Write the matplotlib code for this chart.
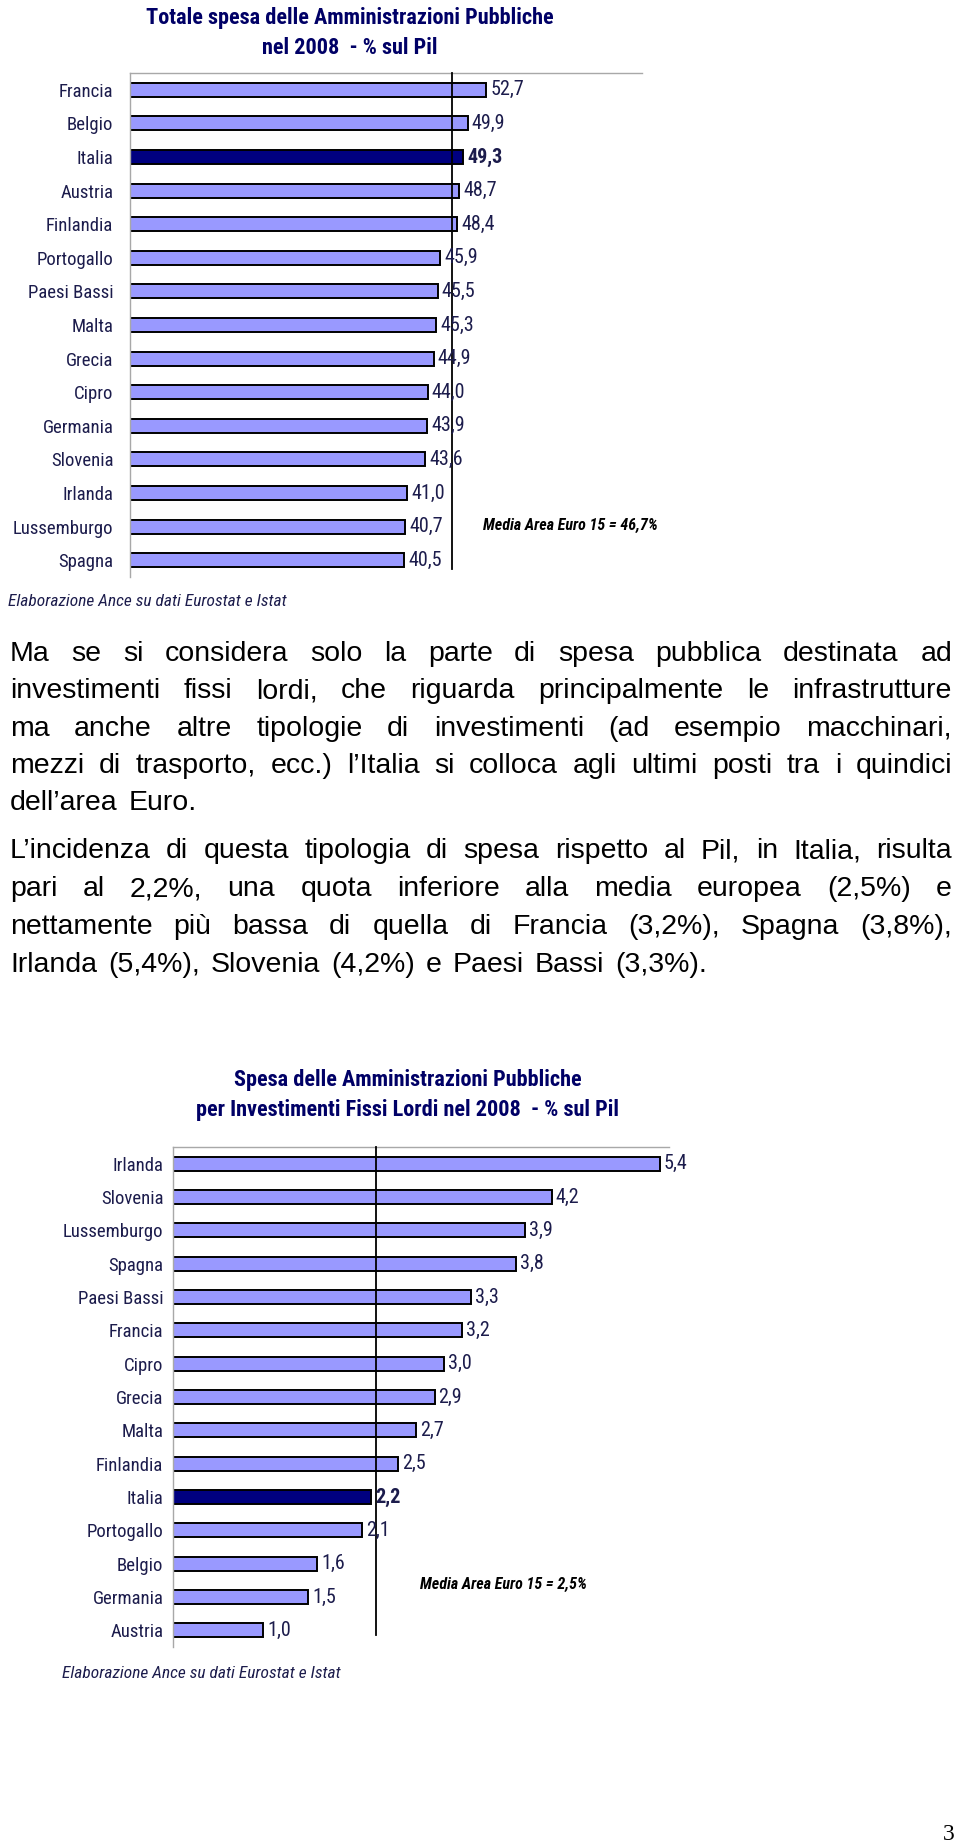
import matplotlib
matplotlib.use("Agg")
import matplotlib.pyplot as plt
from matplotlib import font_manager

# chart 1 data: total public spending 2008, % of GDP
countries_1 = ["Francia", "Belgio", "Italia", "Austria", "Finlandia", "Portogallo",
               "Paesi Bassi", "Malta", "Grecia", "Cipro", "Germania", "Slovenia",
               "Irlanda", "Lussemburgo", "Spagna"]
values_1 = [52.7, 49.9, 49.3, 48.7, 48.4, 45.9, 45.5, 45.3, 44.9, 44.0, 43.9, 43.6,
            41.0, 40.7, 40.5]
line_1 = 47.6  # position of the reference line as drawn
note_1 = "Media Area Euro 15 = 46,7%"

# chart 2 data: public gross fixed investment 2008, % of GDP
countries_2 = ["Irlanda", "Slovenia", "Lussemburgo", "Spagna", "Paesi Bassi", "Francia",
               "Cipro", "Grecia", "Malta", "Finlandia", "Italia", "Portogallo",
               "Belgio", "Germania", "Austria"]
values_2 = [5.4, 4.2, 3.9, 3.8, 3.3, 3.2, 3.0, 2.9, 2.7, 2.5, 2.2, 2.1, 1.6, 1.5, 1.0]
line_2 = 2.25
note_2 = "Media Area Euro 15 = 2,5%"

source = "Elaborazione Ance su dati Eurostat e Istat"

para_1 = ["Ma se si considera solo la parte di spesa pubblica destinata ad",
          "investimenti fissi lordi, che riguarda principalmente le infrastrutture",
          "ma anche altre tipologie di investimenti (ad esempio macchinari,",
          "mezzi di trasporto, ecc.) l\u2019Italia si colloca agli ultimi posti tra i quindici",
          "dell\u2019area Euro."]
para_2 = ["L\u2019incidenza di questa tipologia di spesa rispetto al Pil, in Italia, risulta",
          "pari al 2,2%, una quota inferiore alla media europea (2,5%) e",
          "nettamente pi\u00f9 bassa di quella di Francia (3,2%), Spagna (3,8%),",
          "Irlanda (5,4%), Slovenia (4,2%) e Paesi Bassi (3,3%)."]


# pick a narrow sans close to Arial Narrow, with the needed weight / style
def pick(cands, bold=False, italic=False):
    for c in cands:
        for f in font_manager.fontManager.ttflist:
            w = f.weight
            if isinstance(w, str):
                w = font_manager.weight_dict.get(w, 400)
            if f.name == c and (w >= 600) == bold and (f.style == "italic") == italic:
                return c
    return "Liberation Sans"


cands = ["Liberation Sans Narrow", "Nimbus Sans Narrow", "Arial Narrow", "Roboto Condensed",
         "PT Sans Narrow", "Archivo Narrow", "Asap Condensed"]
N_REG = pick(cands)
N_BOLD = pick(cands, bold=True)
N_IT = pick(cands, italic=True)
N_BI = pick(cands, bold=True, italic=True)

W, H = 960, 1846
fig = plt.figure(figsize=(W / 100, H / 100), dpi=100)
fig.patch.set_facecolor("white")

BAR = "#9999ff"
DARK = "#000080"
TXT = "#1c1c4c"
TITLE = "#000066"


def px(x, y):
    # pixel coords (origin top-left) -> figure fraction
    return x / W, 1 - y / H


def bar_chart(left, top, right, bottom, labels, vals, xmax, line_x, line_end, pad):
    ax = fig.add_axes([left / W, 1 - bottom / H, (right - left) / W, (bottom - top) / H])
    colors = [DARK if c == "Italia" else BAR for c in labels]
    y = list(range(len(labels)))
    ax.barh(y, vals, height=0.42, color=colors, edgecolor="black", linewidth=1.4, zorder=2)
    ax.set_xlim(0, xmax)
    ax.set_ylim(len(labels) - 0.5, -0.5)
    ax.set_xticks([])
    ax.set_yticks(y)
    ax.set_yticklabels(labels, family=N_REG, fontsize=13.5, color=TXT)
    ax.tick_params(axis="y", length=0, pad=pad)
    for s in ["right", "bottom"]:
        ax.spines[s].set_visible(False)
    for s in ["left", "top"]:
        ax.spines[s].set_color("#a8a8a8")
        ax.spines[s].set_linewidth(1.0)
    for yi, v, c in zip(y, vals, labels):
        bold = c == "Italia"
        ax.text(v + xmax * 0.008, yi, f"{v:.1f}".replace(".", ","), va="center", ha="left",
                family=N_BOLD if bold else N_REG, fontsize=14.5, color=TXT,
                fontweight="bold" if bold else "normal", zorder=4)
    ax.plot([line_x, line_x], [-0.5, line_end], color="black", lw=1.3, zorder=3,
            clip_on=False)
    return ax


bar_chart(130, 73, 642, 577, countries_1, values_1, 75.7, line_1, 14.25, 12)
bar_chart(173, 1147, 669, 1647, countries_2, values_2, 5.5, line_2, 14.15, 7)

# titles
tkw = dict(ha="center", va="center", family=N_BOLD, fontsize=16, fontweight="bold",
           color=TITLE)
fig.text(*px(350, 18), "Totale spesa delle Amministrazioni Pubbliche", **tkw)
fig.text(*px(350, 48), "nel 2008  - % sul Pil", **tkw)
fig.text(*px(408, 1080), "Spesa delle Amministrazioni Pubbliche", **tkw)
fig.text(*px(408, 1110), "per Investimenti Fissi Lordi nel 2008  - % sul Pil", **tkw)

# notes and sources
nkw = dict(ha="left", va="center", family=N_BI, fontsize=11.5, fontweight="bold",
           style="italic", color="black")
fig.text(*px(483, 525), note_1, **nkw)
fig.text(*px(420, 1584), note_2, **nkw)
skw = dict(ha="left", va="center", family=N_IT, fontsize=12.5, style="italic", color=TXT)
fig.text(*px(8, 602), source, **skw)
fig.text(*px(62, 1673), source, **skw)

# page number
fig.text(*px(949, 1835), "3", ha="center", va="center", family="Liberation Serif",
         fontsize=17, color="black")

# justified body text
renderer = fig.canvas.get_renderer()
X0, X1 = 10, 952
FS = 20.5
BODY = "Liberation Sans"


def word_width(w):
    t = fig.text(0, 0, w, family=BODY, fontsize=FS)
    bb = t.get_window_extent(renderer)
    t.remove()
    return bb.width


space_w = word_width("a b") - word_width("ab")


def paragraph(lines, y0, pitch):
    for i, line in enumerate(lines):
        y = y0 + i * pitch
        words = line.split(" ")
        widths = [word_width(w) for w in words]
        last = i == len(lines) - 1
        if last or len(words) == 1:
            gap = space_w * 1.4
        else:
            gap = (X1 - X0 - sum(widths)) / (len(words) - 1)
        x = X0
        for w, ww in zip(words, widths):
            fig.text(*px(x, y), w, ha="left", va="baseline", family=BODY, fontsize=FS,
                     color="black")
            x += ww + gap


paragraph(para_1, 661, 37.3)
paragraph(para_2, 858, 38)

fig.savefig("out.png", dpi=100, facecolor="white")
